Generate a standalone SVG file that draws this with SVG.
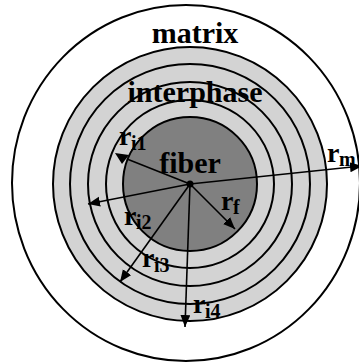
<svg xmlns="http://www.w3.org/2000/svg" width="359" height="362" viewBox="0 0 359 362">
<style>
.ring{fill:none;stroke:#000;stroke-width:2}
.lbl{font-family:"Liberation Serif","Times New Roman",serif;font-weight:bold;fill:#000}
.big{font-size:30px}
.r{font-size:28px}
.sub{font-size:20px}
.conn{stroke:#000;stroke-width:1.6;fill:none}
</style>
<defs>
<marker id="ah" markerUnits="userSpaceOnUse" markerWidth="13" markerHeight="11" refX="12" refY="5" orient="auto">
<path d="M0,0 L12,5 L0,10 z" fill="#000"/>
</marker>
</defs>
<rect width="359" height="362" fill="#fff"/>
<g id="matrix">
<ellipse cx="186" cy="183" rx="174" ry="178" fill="#fff" stroke="#000" stroke-width="2"/>
<text class="lbl big" x="195" y="43" text-anchor="middle">matrix</text>
</g>
<g id="interphase">
<circle cx="190" cy="184" r="137" fill="#d3d3d3" stroke="#000" stroke-width="2"/>
<circle class="ring" cx="190" cy="184" r="120"/>
<circle class="ring" cx="190" cy="184" r="102"/>
<circle class="ring" cx="190" cy="184" r="84"/>
<text class="lbl big" x="195" y="102" text-anchor="middle">interphase</text>
</g>
<g id="fiber">
<circle cx="190" cy="184" r="67" fill="#808080" stroke="#000" stroke-width="2"/>
<text class="lbl big" x="190" y="173" text-anchor="middle" font-size="29">fiber</text>
</g>
<g id="connectors">
<line class="conn" x1="190" y1="184" x2="127" y2="159"/>
<polygon points="115,153 129,155 122,164" fill="#000"/>
<line class="conn" x1="190" y1="184" x2="88" y2="204" marker-end="url(#ah)"/>
<line class="conn" x1="190" y1="184" x2="120" y2="282" marker-end="url(#ah)"/>
<line class="conn" x1="190" y1="184" x2="185" y2="327" marker-end="url(#ah)"/>
<line class="conn" x1="190" y1="184" x2="235" y2="229" marker-end="url(#ah)"/>
<line class="conn" x1="190" y1="184" x2="362" y2="166" marker-end="url(#ah)"/>
<circle cx="190" cy="184" r="3.5" fill="#000"/>
</g>
<g id="labels">
<text class="lbl r" x="119" y="145">r<tspan class="sub" x="131" y="150">i1</tspan></text>
<text class="lbl r" x="124" y="225">r<tspan class="sub" x="136" y="229">i2</tspan></text>
<text class="lbl r" x="142" y="267">r<tspan class="sub" x="154" y="272">i3</tspan></text>
<text class="lbl r" x="221" y="210">r<tspan class="sub" x="233" y="214">f</tspan></text>
<text class="lbl r" x="193" y="313">r<tspan class="sub" x="205" y="318">i4</tspan></text>
<text class="lbl r" x="327" y="162">r<tspan class="sub" x="339" y="166">m</tspan></text>
</g>
</svg>
